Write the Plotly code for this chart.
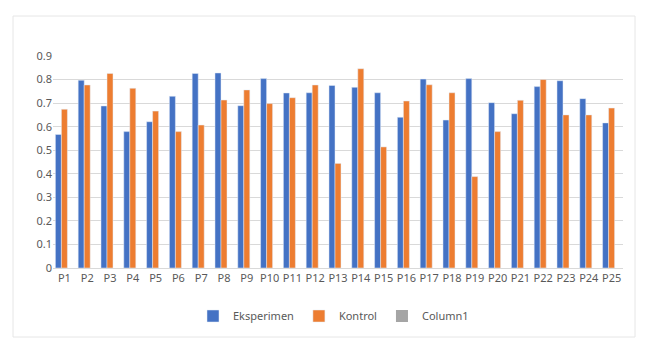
import plotly.graph_objects as go

categories = [f"P{i}" for i in range(1, 26)]
eksperimen = [0.567, 0.797, 0.688, 0.579, 0.621, 0.729, 0.826, 0.828, 0.689, 0.804,
              0.743, 0.744, 0.775, 0.767, 0.744, 0.640, 0.802, 0.628, 0.804, 0.702,
              0.655, 0.770, 0.795, 0.719, 0.616]
kontrol = [0.674, 0.777, 0.826, 0.763, 0.666, 0.579, 0.607, 0.713, 0.756, 0.698,
           0.723, 0.777, 0.444, 0.846, 0.514, 0.709, 0.778, 0.744, 0.388, 0.579,
           0.712, 0.800, 0.650, 0.650, 0.679]
column1 = [0] * 25
y_ticks = [0, 0.1, 0.2, 0.3, 0.4, 0.5, 0.6, 0.7, 0.8, 0.9]
y_tick_labels = ["0", "0.1", "0.2", "0.3", "0.4", "0.5", "0.6", "0.7", "0.8", "0.9"]

FONT = "Noto Sans"
fig = go.Figure()
fig.add_trace(go.Bar(x=categories, y=eksperimen, name="Eksperimen", marker_color="#4472C4"))
fig.add_trace(go.Bar(x=categories, y=kontrol, name="Kontrol", marker_color="#ED7D31"))
fig.add_trace(go.Bar(x=categories, y=column1, name="Column1", marker_color="#A5A5A5",
                     marker_line_width=0))

W, H = 652, 355
L, R, T, B = 53, 29, 56, 87
pw, ph = W - L - R, H - T - B

def px_x(p):
    return (p - L) / pw

def px_y(p):
    return (H - B - p) / ph

fig.update_layout(
    width=W, height=H,
    margin=dict(l=L, r=R, t=T, b=B),
    paper_bgcolor="white", plot_bgcolor="white",
    barmode="group", bargap=0.21, bargroupgap=0,
    font=dict(family=FONT, size=11, color="#595959"),
    showlegend=True,
    legend=dict(orientation="h", x=px_x(193), xanchor="left", y=px_y(316), yanchor="middle",
                font=dict(family=FONT, size=11, color="#595959"), itemwidth=30,
                traceorder="normal"),
    xaxis=dict(showgrid=False, showline=True, linecolor="#D9D9D9", linewidth=1,
               ticks="", tickfont=dict(size=11, color="#595959"), fixedrange=True),
    yaxis=dict(range=[0, 0.9], tickvals=y_ticks, ticktext=y_tick_labels,
               showgrid=True, gridcolor="#D9D9D9", gridwidth=1, zeroline=False,
               showline=False, ticks="", tickfont=dict(size=11, color="#595959")),
    shapes=[dict(type="rect", xref="paper", yref="paper",
                 x0=px_x(13), x1=px_x(635), y0=px_y(337), y1=px_y(16),
                 line=dict(color="#E6E6E6", width=1), layer="below")],
)
fig.write_html("out.html", config={"displayModeBar": False},
               post_script="document.body.style.margin='0';document.body.style.overflow='hidden';")
